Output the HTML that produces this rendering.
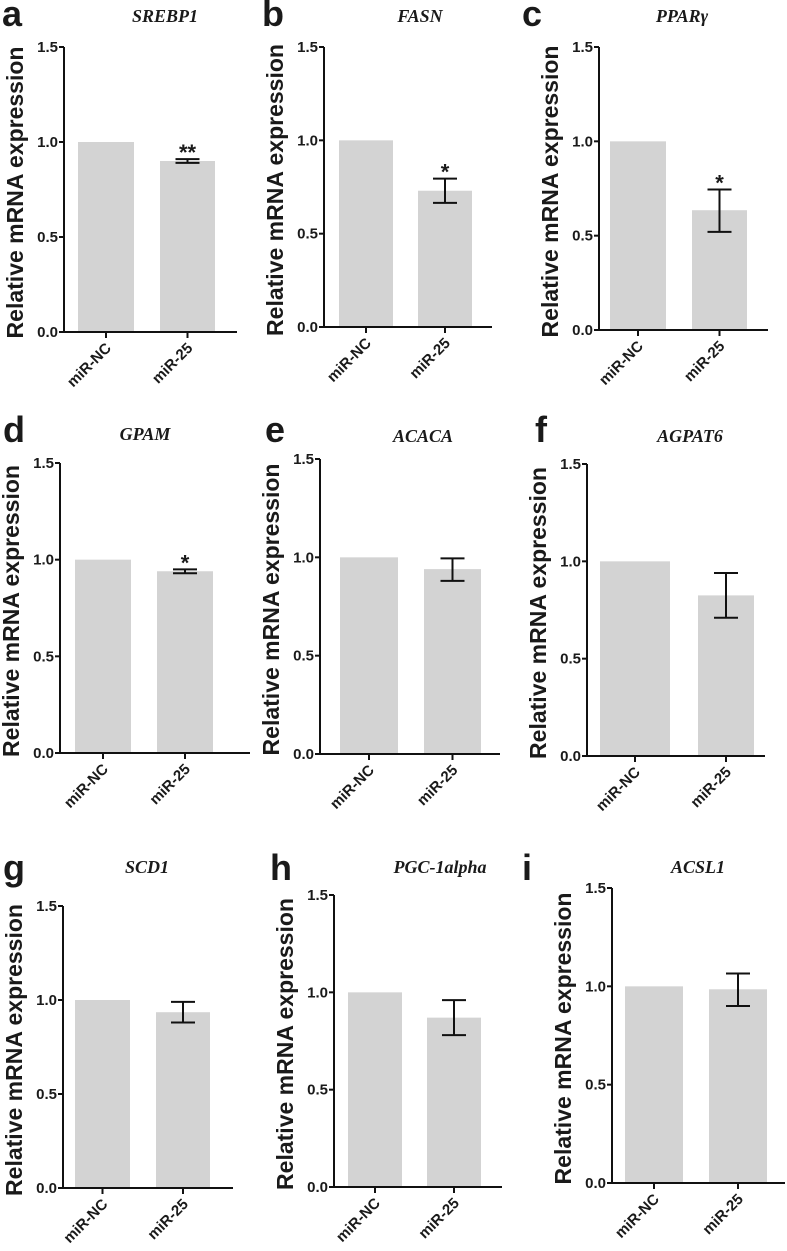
<!DOCTYPE html>
<html><head><meta charset="utf-8"><style>
html,body{margin:0;padding:0;background:#fff;}
svg{display:block;}
text{font-family:"Liberation Sans",sans-serif;font-weight:bold;fill:#1a1a1a;}
.title{font-family:"Liberation Serif",serif;font-style:italic;font-size:18px;}
</style></head><body>
<svg id="fig" width="787" height="1251" viewBox="0 0 787 1251" xmlns="http://www.w3.org/2000/svg"></svg>
<script>
const genes = ["SREBP1","FASN","PPARγ","GPAM","ACACA","AGPAT6","SCD1","PGC-1alpha","ACSL1"];
const letters = ["a","b","c","d","e","f","g","h","i"];
const categories = ["miR-NC","miR-25"];
const ncValues = [1,1,1,1,1,1,1,1,1];
const mirValues = [0.90,0.73,0.635,0.94,0.94,0.825,0.935,0.87,0.985];
const errLow = [0.89,0.665,0.52,0.93,0.88,0.71,0.88,0.78,0.90];
const errHigh = [0.91,0.795,0.745,0.95,0.995,0.94,0.99,0.96,1.065];
const stars = ["**","*","*","*","","","","",""];
const yTicks = [0,0.5,1.0,1.5];
const yTickLabels = ["0.0","0.5","1.0","1.5"];

// layout (geometry only)
const panels = [
 {ax:64,y15:47,y0:332,xe:237,b:[[78,134],[160,215]],tx:165,ty:22,lx:2,ly:26},
 {ax:324,y15:47,y0:327,xe:492,b:[[339,393],[418,472]],tx:420,ty:22,lx:262,ly:26},
 {ax:599,y15:47,y0:330,xe:768,b:[[610,666],[692,747]],tx:682,ty:22,lx:522,ly:26},
 {ax:60,y15:463,y0:753,xe:250,b:[[75,131],[157,213]],tx:145,ty:440,lx:3,ly:442},
 {ax:320,y15:459,y0:754,xe:500,b:[[340,398],[424,481]],tx:423,ty:442,lx:265,ly:442},
 {ax:587,y15:464,y0:756,xe:765,b:[[600,670],[698,754]],tx:690,ty:442,lx:535,ly:442},
 {ax:63,y15:906,y0:1188,xe:233,b:[[75,130],[156,210]],tx:147,ty:873,lx:3,ly:880},
 {ax:334,y15:895,y0:1187,xe:502,b:[[348,402],[427,481]],tx:440,ty:873,lx:270,ly:880},
 {ax:612,y15:888,y0:1183,xe:785,b:[[625,683],[709,767]],tx:698,ty:873,lx:522,ly:880}
];
const NS="http://www.w3.org/2000/svg";
const svg=document.getElementById('fig');
function mk(tag,attrs,parent){const e=document.createElementNS(NS,tag);for(const k in attrs)e.setAttribute(k,attrs[k]);(parent||svg).appendChild(e);return e;}

panels.forEach((p,i)=>{
  const g=mk('g',{});
  
  
  const y=v=>p.y0-(v/1.5)*(p.y0-p.y15);
  const vals=[ncValues[i],mirValues[i]];
  vals.forEach((v,j)=>{
    const r=mk('rect',{x:p.b[j][0],y:y(v),width:p.b[j][1]-p.b[j][0],height:p.y0-y(v),fill:'#d3d3d3'},g);
    
    
  });
  const cx=(p.b[1][0]+p.b[1][1])/2, hw=12;
  const eb=mk('path',{d:`M${cx},${y(errLow[i])}V${y(errHigh[i])}M${cx-hw},${y(errLow[i])}H${cx+hw}M${cx-hw},${y(errHigh[i])}H${cx+hw}`,stroke:'#111','stroke-width':2,fill:'none'},g);
  
  
  if(stars[i]){
    const s=mk('text',{x:cx,y:y(errHigh[i])+1,'text-anchor':'middle','font-size':22},g);
    s.textContent=stars[i];
    
    
  }
  const axes=mk('path',{d:`M${p.ax},${p.y15}V${p.y0}H${p.xe}`,stroke:'#111','stroke-width':2,fill:'none'},g);
  
  
  yTicks.forEach((t,k)=>{
    mk('line',{x1:p.ax-5,x2:p.ax,y1:y(t),y2:y(t),stroke:'#111','stroke-width':2},g);
    const tl=mk('text',{x:p.ax-6,y:y(t)+5,'text-anchor':'end','font-size':15},g);
    tl.textContent=yTickLabels[k];
    
    
  });
  categories.forEach((c,j)=>{
    const tx=(p.b[j][0]+p.b[j][1])/2;
    mk('line',{x1:tx,x2:tx,y1:p.y0,y2:p.y0+6,stroke:'#111','stroke-width':2},g);
    const xl=mk('text',{x:tx+6,y:p.y0+17,'text-anchor':'end','font-size':15,transform:`rotate(-45 ${tx+6} ${p.y0+17})`},g);
    xl.textContent=c;
    
    
  });
  const yl=mk('text',{x:0,y:0,'text-anchor':'middle','font-size':23,transform:`translate(${p.ax-41},${(p.y15+p.y0)/2+3}) rotate(-90)`},g);
  yl.textContent='Relative mRNA expression';
  
  
  const ti=mk('text',{x:p.tx,y:p.ty,'text-anchor':'middle',class:'title'},g);
  ti.textContent=genes[i];
  
  
  const le=mk('text',{x:p.lx,y:p.ly,'font-size':36},g);
  le.textContent=letters[i];
  
  
});
</script>
</body></html>
